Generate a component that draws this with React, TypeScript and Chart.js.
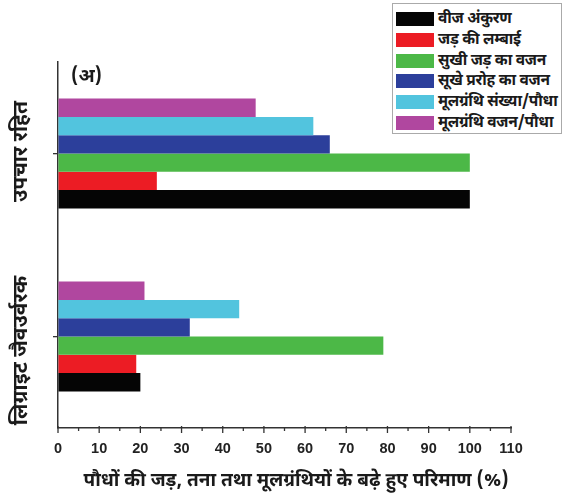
import React, { useEffect, useRef } from 'react';
import { Chart, registerables } from 'chart.js';

Chart.register(...registerables);

const categories = ['उपचार रहित', 'लिग्राइट जैवउर्वरक'];
const seriesLabels = [
  'वीज अंकुरण',
  'जड़ की लम्बाई',
  'सुखी जड़ का वजन',
  'सूखे प्ररोह का वजन',
  'मूलग्रंथि संख्या/पौधा',
  'मूलग्रंथि वजन/पौधा',
];
const seriesColors = ['#050505', '#ec1c24', '#4cb847', '#2c3f9b', '#52c4de', '#b0479f'];
const seedGermination = [100, 20];
const rootLength = [24, 19];
const dryRootWeight = [100, 79];
const dryShootWeight = [66, 32];
const noduleCount = [62, 44];
const noduleWeight = [48, 21];
const seriesValues = [seedGermination, rootLength, dryRootWeight, dryShootWeight, noduleCount, noduleWeight];
const xTitle = 'पौधों की जड़, तना तथा मूलग्रंथियों के बढ़े हुए परिमाण (%)';
const panelLabel = '(अ)';

const DEVA = "'Noto Sans Devanagari', 'Noto Sans', 'Lohit Devanagari', sans-serif";
const LATIN = "'Liberation Sans', Arial, sans-serif";

const decorPlugin = {
  id: 'decor',
  afterDraw(chart: any) {
    const ctx = chart.ctx;
    const x = chart.scales.x;
    const y = chart.scales.y;
    const axisY = chart.chartArea.bottom;
    ctx.save();
    ctx.strokeStyle = '#333';
    ctx.lineWidth = 1.3;
    for (let v = 0; v <= 110; v += 5) {
      const px = x.getPixelForValue(v);
      const major = v % 10 === 0;
      ctx.beginPath();
      ctx.moveTo(px, axisY - (major ? 2 : 1));
      ctx.lineTo(px, axisY + (major ? 5 : 3));
      ctx.stroke();
    }
    // category labels (rotated)
    ctx.fillStyle = '#1a1a1a';
    ctx.font = `bold 21px ${DEVA}`;
    ctx.textAlign = 'center';
    ctx.textBaseline = 'middle';
    categories.forEach((c, i) => {
      const py = y.getPixelForTick(i);
      ctx.save();
      ctx.translate(23, py + (i === 1 ? 14 : -2));
      ctx.rotate(-Math.PI / 2);
      ctx.fillText(c, 0, 0);
      ctx.restore();
    });
    // x axis title
    ctx.font = `bold 19px ${DEVA}`;
    ctx.textAlign = 'center';
    ctx.fillText(xTitle, x.getPixelForValue(57.8), axisY + 54);
    // panel label
    ctx.font = `bold 19px ${DEVA}`;
    ctx.textAlign = 'left';
    ctx.fillText(panelLabel, chart.chartArea.left + 13, chart.chartArea.top + 16);
    ctx.restore();
  },
};

export default function App() {
  const ref = useRef<HTMLCanvasElement | null>(null);

  useEffect(() => {
    document.body.style.margin = '0';
    if (!ref.current) return;
    const datasets = seriesLabels
      .map((label, i) => ({
        label,
        data: seriesValues[i],
        backgroundColor: seriesColors[i],
        borderWidth: 0,
        barPercentage: 1,
        categoryPercentage: 0.6,
      }))
      .reverse();
    const chart = new Chart(ref.current, {
      type: 'bar',
      data: { labels: categories, datasets },
      options: {
        indexAxis: 'y',
        animation: false,
        responsive: false,
        maintainAspectRatio: false,
        layout: { padding: { top: 62, right: 53, left: 0, bottom: 6 } },
        plugins: {
          legend: { display: false },
          tooltip: { enabled: false },
        },
        scales: {
          x: {
            min: 0,
            max: 110,
            ticks: {
              stepSize: 10,
              color: '#222',
              padding: 12,
              font: { family: LATIN, size: 14.5, weight: 'bold' },
            },
            grid: { drawOnChartArea: false, drawTicks: false },
            border: { display: true, color: '#333', width: 1.5 },
            afterFit: (s: any) => {
              s.height = 64;
            },
          },
          y: {
            ticks: { display: false },
            grid: { drawOnChartArea: false, drawTicks: true, tickLength: 5, offset: false, color: '#333', lineWidth: 1.3 },
            border: { display: true, color: '#333', width: 1.5 },
            afterFit: (s: any) => {
              s.width = 58;
            },
          },
        },
      },
      plugins: [decorPlugin],
    });
    return () => chart.destroy();
  }, []);

  return (
    <div style={{ position: 'relative', width: 564, height: 498, background: '#fff' }}>
      <canvas ref={ref} width={564} height={498} style={{ display: 'block' }} />
      <div
        style={{
          position: 'absolute',
          left: 392,
          top: 3,
          width: 170,
          height: 131,
          border: '1px solid #aaa',
          boxSizing: 'border-box',
          background: '#fff',
          paddingTop: 5,
        }}
      >
        {seriesLabels.map((l, i) => (
          <div key={l} style={{ display: 'flex', alignItems: 'center', height: 20.7 }}>
            <div style={{ width: 38, height: 14, marginLeft: 3, background: seriesColors[i], flexShrink: 0 }} />
            <span
              style={{
                marginLeft: 4,
                fontFamily: DEVA,
                fontWeight: 'bold',
                fontSize: 15.5,
                letterSpacing: -0.3,
                color: '#1a1a1a',
                whiteSpace: 'nowrap',
              }}
            >
              {l}
            </span>
          </div>
        ))}
      </div>
    </div>
  );
}
